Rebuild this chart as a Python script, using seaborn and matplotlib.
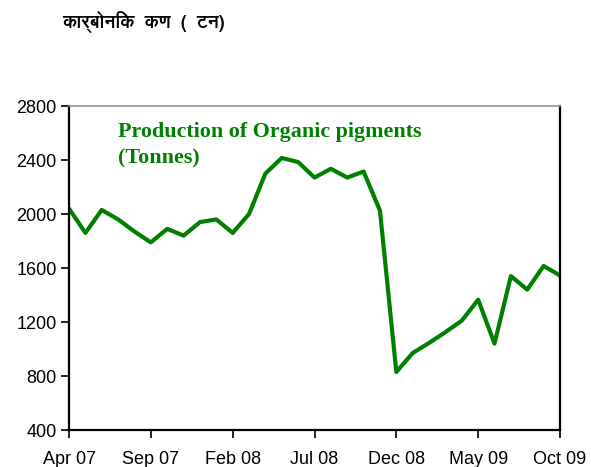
import matplotlib
matplotlib.use("Agg")
import matplotlib.pyplot as plt
from matplotlib import font_manager
import seaborn as sns
import pandas as pd
import numpy as np

# ---------------- data ----------------
months = ["Apr 07", "May 07", "Jun 07", "Jul 07", "Aug 07", "Sep 07", "Oct 07", "Nov 07",
          "Dec 07", "Jan 08", "Feb 08", "Mar 08", "Apr 08", "May 08", "Jun 08", "Jul 08",
          "Aug 08", "Sep 08", "Oct 08", "Nov 08", "Dec 08", "Jan 09", "Feb 09", "Mar 09",
          "Apr 09", "May 09", "Jun 09", "Jul 09", "Aug 09", "Sep 09", "Oct 09"]
production = [2040, 1860, 2030, 1960, 1870, 1790, 1890, 1840, 1940, 1960, 1860, 2000,
              2300, 2415, 2385, 2270, 2335, 2270, 2315, 2025, 830, 970, 1045, 1125,
              1210, 1365, 1040, 1540, 1440, 1615, 1545]
tick_labels = ["Apr 07", "Sep 07", "Feb 08", "Jul 08", "Dec 08", "May 09", "Oct 09"]
y_ticks = [400, 800, 1200, 1600, 2000, 2400, 2800]
title_hi = "कार्बोनिक  कण  (  टन)"
inner_title = "Production of Organic pigments\n(Tonnes)"

# ---------------- find a Devanagari-capable font ----------------
deva_family = None
try:
    from fontTools.ttLib import TTFont
    cands = []
    for fe in font_manager.fontManager.ttflist:
        try:
            tt = TTFont(fe.fname, fontNumber=0, lazy=True)
            cmap = tt.getBestCmap()
            if cmap and 0x0915 in cmap:
                cands.append(fe)
        except Exception:
            continue
    bold = [c for c in cands if c.weight in ("bold", 700) or "Bold" in c.fname]
    pick = bold[0] if bold else (cands[0] if cands else None)
    if pick is not None:
        deva_family = pick.name
except Exception:
    pass

sns.set_theme(style="white")
plt.rcParams['font.family'] = ['Liberation Sans', 'DejaVu Sans']

df = pd.DataFrame({"idx": np.arange(len(months)), "month": months, "value": production})

fig = plt.figure(figsize=(5.91, 4.67), dpi=100)
ax = fig.add_axes([0.1168, 0.0792, 0.9475 - 0.1168, 0.773 - 0.0792])

sns.lineplot(data=df, x="idx", y="value", ax=ax, color="#008000", linewidth=3.0)

ax.set_xlim(0, len(months) - 1)
ax.set_ylim(400, 2800)
tick_pos = [months.index(m) for m in tick_labels]
ax.set_xticks(tick_pos)
ax.set_xticklabels(tick_labels, fontsize=13, color="black")
ax.set_yticks(y_ticks)
ax.set_yticklabels([str(v) for v in y_ticks], fontsize=13, color="black")
ax.set_xlabel("")
ax.set_ylabel("")
ax.tick_params(axis="both", direction="out", length=6, width=1.2, colors="black",
               bottom=True, left=True, pad=3)
ax.tick_params(axis="x", pad=9)

for side in ["left", "bottom", "right"]:
    ax.spines[side].set_color("black")
    ax.spines[side].set_linewidth(1.6)
ax.spines["top"].set_color("#909090")
ax.spines["top"].set_linewidth(1.2)
ax.grid(False)

ax.text(0.10, 0.95, inner_title, transform=ax.transAxes, ha="left", va="top",
        fontsize=15.8, fontweight="bold", color="#008000",
        family=["Liberation Serif", "DejaVu Serif"], linespacing=1.45)

fams = [deva_family, "DejaVu Sans"] if deva_family else ["DejaVu Sans"]
fig.text(62 / 591, 1 - 22 / 467, title_hi, ha="left", va="center", fontsize=13,
         fontweight="bold", color="black", family=fams)

fig.savefig("out.png", dpi=100)
